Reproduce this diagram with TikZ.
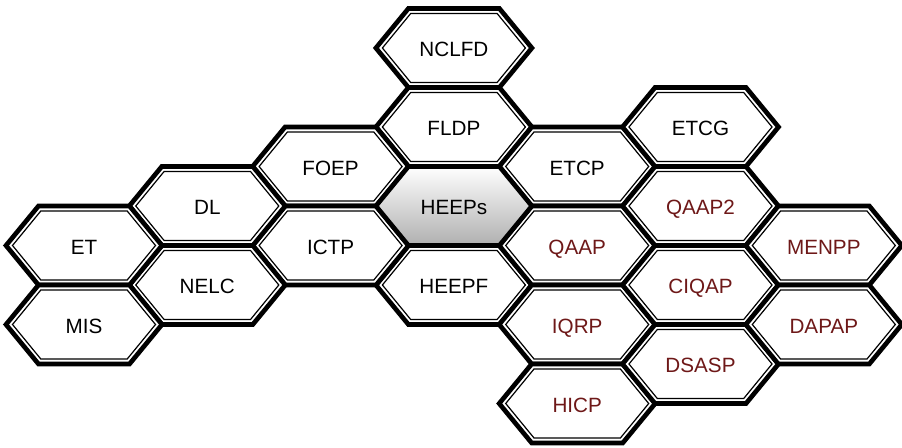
\documentclass[tikz,border=0pt]{standalone}
\usepackage{fontspec}
\setmainfont{Liberation Sans}
\usetikzlibrary{calc}
\definecolor{qared}{RGB}{110,24,24}
\tikzset{
  x=0.75pt, y=-0.75pt,
  hexedge/.style={line width=3.5pt, line join=miter, draw=black, fill=white},
  hexinner/.style={line width=0.9pt, line join=miter, draw=black},
  hexlabel/.style={font=\fontsize{15.5}{18}\selectfont, inner sep=0pt,
    text height=11pt, text depth=0pt, yshift=-1pt},
}

\begin{document}
\begin{tikzpicture}
\useasboundingbox (0,0) rectangle (902,448);

% honeycomb: column / half-row / name / label / colour
\foreach \c/\r/\name/\txt/\tcol in {
  3/0/nclfd/NCLFD/black, 3/2/fldp/FLDP/black, 3/6/heepf/HEEPF/black,
  4/3/etcp/ETCP/black, 4/5/qaap/QAAP/qared, 4/7/iqrp/IQRP/qared, 4/9/hicp/HICP/qared,
  5/2/etcg/ETCG/black, 5/4/qaaptwo/QAAP2/qared, 5/6/ciqap/CIQAP/qared, 5/8/dsasp/DSASP/qared,
  6/5/menpp/MENPP/qared, 6/7/dapap/DAPAP/qared,
  2/3/foep/FOEP/black, 2/5/ictp/ICTP/black,
  1/4/dl/DL/black, 1/6/nelc/NELC/black,
  0/5/et/ET/black, 0/7/mis/MIS/black}
{
  \coordinate (\name-c) at ({84+123.3*\c},{48+39.5*\r});
  \draw[hexedge] (\name-c) ++(-78,0) -- ++(32.5,-39.5) -- ++(91,0)
    -- ++(32.5,39.5) -- ++(-32.5,39.5) -- ++(-91,0) -- cycle;
  \draw[hexinner] (\name-c) ++(-71.5,0) -- ++(28.3,-34.5) -- ++(86.4,0)
    -- ++(28.3,34.5) -- ++(-28.3,34.5) -- ++(-86.4,0) -- cycle;
  \node[hexlabel, text=\tcol] (\name) at (\name-c) {\txt};
}

% centre cell
\coordinate (heeps-c) at ({84+123.3*3},{48+39.5*4});
\draw[hexedge, top color=white, bottom color=gray!62] (heeps-c) ++(-78,0)
  -- ++(32.5,-39.5) -- ++(91,0) -- ++(32.5,39.5) -- ++(-32.5,39.5)
  -- ++(-91,0) -- cycle;
\node[hexlabel] (heeps) at (heeps-c) {HEEPs};
\end{tikzpicture}
\end{document}
